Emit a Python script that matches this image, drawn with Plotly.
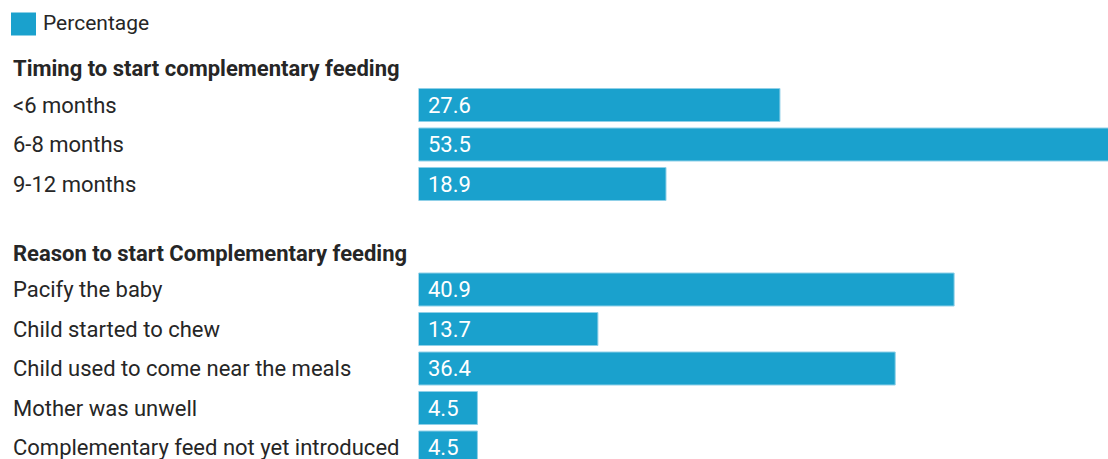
import plotly.graph_objects as go

# ---- data ----
series_name = "Percentage"
group_titles = ["Timing to start complementary feeding", "Reason to start Complementary feeding"]
timing_labels = ["<6 months", "6-8 months", "9-12 months"]
timing_values = [27.6, 53.5, 18.9]
reason_labels = ["Pacify the baby", "Child started to chew", "Child used to come near the meals",
                 "Mother was unwell", "Complementary feed not yet introduced"]
reason_values = [40.9, 13.7, 36.4, 4.5, 4.5]

# ---- layout constants (pixels) ----
W, H = 1108, 459
ROW = 39.5
GROUP_FIRST = [105, 289.5]
HEAD_OFFSET = 36.5
PLOT_LEFT = 418.5
XMAX = 52.65
BAR_COLOR = "#1aa1cd"
TEXT_COLOR = "#262626"
FONT = "Roboto"
FS = 22

groups = [(timing_labels, timing_values), (reason_labels, reason_values)]

ys, xs, labs = [], [], []
annotations = []
for g, (labels, values) in enumerate(groups):
    y0 = GROUP_FIRST[g]
    annotations.append(dict(x=11 / W, xref="paper", y=y0 - HEAD_OFFSET, yref="y",
                            text="<b>" + group_titles[g] + "</b>", showarrow=False,
                            xanchor="left", yanchor="middle",
                            font=dict(family=FONT, size=FS, color=TEXT_COLOR)))
    for i, (lab, v) in enumerate(zip(labels, values)):
        yy = y0 + i * ROW
        ys.append(yy)
        xs.append(v)
        labs.append(lab)
        annotations.append(dict(x=11 / W, xref="paper", y=yy, yref="y", text=lab,
                                showarrow=False, xanchor="left", yanchor="middle",
                                font=dict(family=FONT, size=FS, color=TEXT_COLOR)))
        annotations.append(dict(x=0, xref="x", y=yy, yref="y", text=f"{v}",
                                showarrow=False, xanchor="left", yanchor="middle", xshift=7,
                                font=dict(family=FONT, size=FS, color="white")))

# legend
annotations.append(dict(x=41 / W, xref="paper", y=1 - 23 / H, yref="paper", text=series_name,
                        showarrow=False, xanchor="left", yanchor="middle",
                        font=dict(family=FONT, size=21, color=TEXT_COLOR)))

fig = go.Figure(go.Bar(
    x=xs, y=ys, orientation="h", width=33, name=series_name,
    marker=dict(color=BAR_COLOR, line=dict(color="#8fd0e8", width=1)),
    hovertext=labs, hoverinfo="text+x",
))

fig.update_layout(
    width=W, height=H,
    margin=dict(l=0, r=0, t=0, b=0),
    paper_bgcolor="white", plot_bgcolor="white",
    showlegend=False,
    xaxis=dict(domain=[PLOT_LEFT / W, 1], range=[0, XMAX], visible=False, fixedrange=True),
    yaxis=dict(range=[H, 0], visible=False, fixedrange=True),
    annotations=annotations,
    shapes=[dict(type="rect", xref="paper", yref="paper",
                 x0=11 / W, x1=36 / W, y0=1 - 12.5 / H, y1=1 - 35.5 / H,
                 fillcolor=BAR_COLOR, line=dict(width=0))],
)

fig.write_html("out.html")
